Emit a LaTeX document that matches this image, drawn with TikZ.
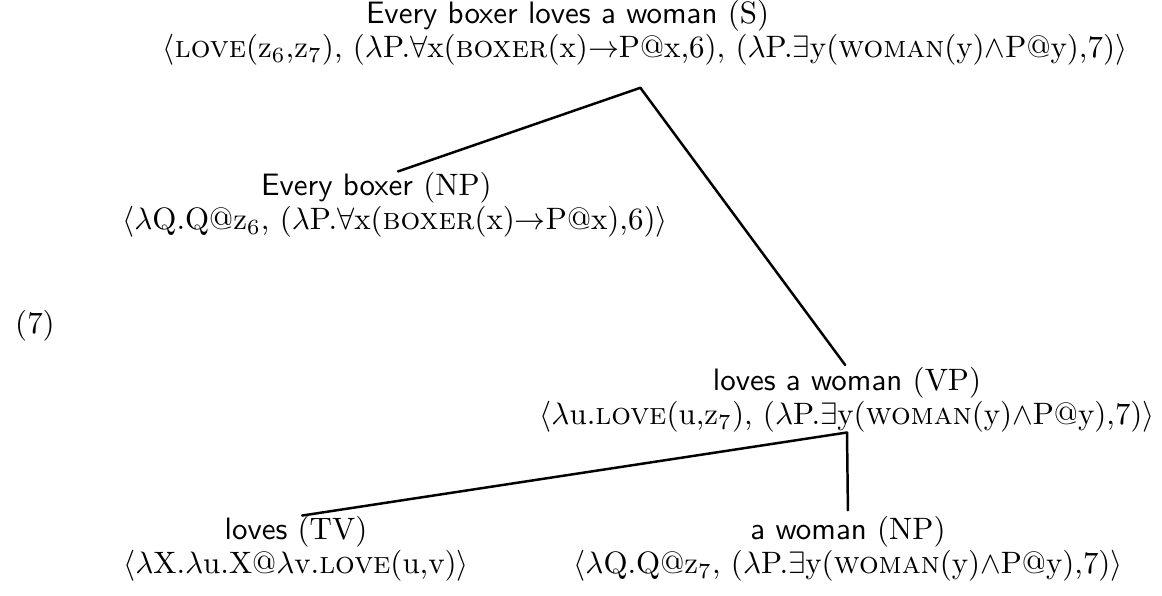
\documentclass[tikz,border=0pt]{standalone}
\usepackage{amsmath}
\usepackage{tikz}
\usetikzlibrary{positioning}

\begin{document}
\begin{tikzpicture}[
    x=0.323pt, y=-0.323pt,
    sem/.style={inner sep=0pt, outer sep=0pt, align=center},
    word/.style={inner sep=0pt, outer sep=0pt, font=\sffamily},
    branch/.style={thick, line cap=round}
]
\useasboundingbox (0,0) rectangle (1162,595);
% formulas
\node[sem] (s) at (645,50) {$\langle$\textsc{love}(z$_6$,z$_7$), ($\lambda$P.$\forall$x(\textsc{boxer}(x)$\rightarrow$P@x,6), ($\lambda$P.$\exists$y(\textsc{woman}(y)$\wedge$P@y),7)$\rangle$};
\node[sem] (np) at (395,222) {$\langle\lambda$Q.Q@z$_6$, ($\lambda$P.$\forall$x(\textsc{boxer}(x)$\rightarrow$P@x),6)$\rangle$};
\node[sem] (vp) at (847,417) {$\langle\lambda$u.\textsc{love}(u,z$_7$), ($\lambda$P.$\exists$y(\textsc{woman}(y)$\wedge$P@y),7)$\rangle$};
\node[sem] (tv) at (296,566) {$\langle\lambda$X.$\lambda$u.X@$\lambda$v.\textsc{love}(u,v)$\rangle$};
\node[sem] (wm) at (848,566) {$\langle\lambda$Q.Q@z$_7$, ($\lambda$P.$\exists$y(\textsc{woman}(y)$\wedge$P@y),7)$\rangle$};
% words
\node[word, above=1pt of s, xshift=-25pt] (s-w) {Every boxer loves a woman \textrm{(S)}};
\node[word, above=1pt of np, xshift=-6pt] (np-w) {Every boxer \textrm{(NP)}};
\node[word, above=1pt of vp] (vp-w) {loves a woman \textrm{(VP)}};
\node[word, above=1pt of tv] (tv-w) {loves \textrm{(TV)}};
\node[word, above=1pt of wm] (wm-w) {a woman \textrm{(NP)}};
\node[sem] (ex) at (35,326) {(7)};
% branches
\coordinate (s-j) at ([xshift=-1.5pt, yshift=-7.2pt]s.south);
\draw[branch, shorten >=1pt] (s-j) -- (np-w.north -| np);
\draw[branch, shorten >=1pt] (s-j) -- (vp-w.north);
\draw[branch, shorten >=2pt] (vp.south) -- (tv-w.north);
\draw[branch, shorten >=2pt] (vp.south) -- (wm-w.north);
\end{tikzpicture}
\end{document}
